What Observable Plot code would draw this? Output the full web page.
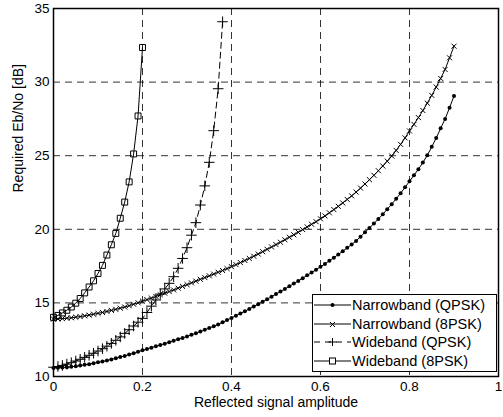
<!DOCTYPE html>
<html>
<head>
<meta charset="utf-8">
<script src="https://cdn.jsdelivr.net/npm/d3@7"></script>
<script src="https://cdn.jsdelivr.net/npm/@observablehq/plot@0.6"></script>
<style>
  html, body { margin: 0; padding: 0; background: #fff; }
  #wrap { position: relative; width: 503px; height: 417px; font-family: "Liberation Sans", Arial, sans-serif; }
  #legend { position: absolute; left: 312px; top: 294px; width: 183px; height: 75px; border: 1px solid #000; background: #fff; padding-top: 1px; }
  .row { display: flex; align-items: center; height: 18.6px; font-size: 14.5px; color: #000; }
  .row svg { width: 39px; height: 18px; flex: none; }
</style>
</head>
<body>
<div id="wrap"></div>
<script>
const xs = [0,0.01,0.02,0.03,0.04,0.05,0.06,0.07,0.08,0.09,0.1,0.11,0.12,0.13,0.14,0.15,0.16,0.17,0.18,0.19,0.2,0.21,0.22,0.23,0.24,0.25,0.26,0.27,0.28,0.29,0.3,0.31,0.32,0.33,0.34,0.35,0.36,0.37,0.38,0.39,0.4,0.41,0.42,0.43,0.44,0.45,0.46,0.47,0.48,0.49,0.5,0.51,0.52,0.53,0.54,0.55,0.56,0.57,0.58,0.59,0.6,0.61,0.62,0.63,0.64,0.65,0.66,0.67,0.68,0.69,0.7,0.71,0.72,0.73,0.74,0.75,0.76,0.77,0.78,0.79,0.8,0.81,0.82,0.83,0.84,0.85,0.86,0.87,0.88,0.89,0.9];

const narrowQPSK = [10.58,10.59,10.61,10.63,10.66,10.70,10.74,10.79,10.84,10.90,10.96,11.02,11.09,11.16,11.24,11.32,11.40,11.49,11.58,11.68,11.78,11.87,11.96,12.05,12.14,12.23,12.33,12.43,12.53,12.62,12.72,12.83,12.94,13.05,13.17,13.29,13.41,13.54,13.68,13.83,13.98,14.13,14.28,14.43,14.59,14.75,14.91,15.08,15.25,15.42,15.60,15.77,15.95,16.13,16.31,16.49,16.68,16.87,17.06,17.25,17.45,17.65,17.86,18.07,18.29,18.51,18.74,18.97,19.21,19.50,19.80,20.09,20.39,20.70,21.02,21.36,21.71,22.07,22.45,22.85,23.26,23.67,24.08,24.53,25.03,25.60,26.20,26.86,27.50,28.26,29.05];

const narrow8PSK = [13.90,13.91,13.93,13.96,13.99,14.03,14.07,14.12,14.17,14.23,14.29,14.35,14.42,14.49,14.56,14.64,14.72,14.81,14.91,15.01,15.12,15.22,15.33,15.44,15.55,15.66,15.77,15.88,16.00,16.12,16.24,16.36,16.48,16.60,16.72,16.84,16.96,17.08,17.20,17.33,17.46,17.60,17.74,17.88,18.02,18.17,18.32,18.48,18.64,18.80,18.96,19.12,19.29,19.46,19.63,19.80,19.98,20.16,20.34,20.52,20.71,20.91,21.12,21.34,21.56,21.79,22.03,22.27,22.53,22.80,23.08,23.37,23.67,23.98,24.30,24.63,24.98,25.36,25.77,26.21,26.68,27.13,27.59,28.07,28.57,29.10,29.66,30.25,30.86,31.65,32.44];

const wideQPSK = [10.63,10.68,10.75,10.84,10.94,11.05,11.17,11.30,11.44,11.58,11.73,11.89,12.06,12.25,12.46,12.69,12.93,13.18,13.43,13.69,13.95,14.35,14.78,15.20,15.60,15.95,16.33,16.78,17.35,18.02,18.75,19.60,20.45,21.65,22.95,24.55,26.70,29.55,34.10];

const wide8PSK = [14.02,14.15,14.32,14.50,14.72,14.98,15.30,15.68,16.08,16.50,17.00,17.55,18.25,18.95,19.72,20.75,21.85,23.22,25.12,27.70,32.35];

const seriesNames = ["Narrowband (QPSK)", "Narrowband (8PSK)", "Wideband (QPSK)", "Wideband (8PSK)"];
const xTicks = [0, 0.2, 0.4, 0.6, 0.8, 1];
const yTicks = [10, 15, 20, 25, 30, 35];
const xGrid = [0.2, 0.4, 0.6, 0.8];
const yGrid = [15, 20, 25, 30];
const xLabel = "Reflected signal amplitude";
const yLabel = "Required Eb/No [dB]";

const toRows = (ys) => ys.map((y, i) => ({x: xs[i], y}));
const nbq = toRows(narrowQPSK);
const nb8 = toRows(narrow8PSK);
const wbq = toRows(wideQPSK);
const wb8 = toRows(wide8PSK);

const gridStyle = {stroke: "#000", strokeWidth: 0.8, strokeDasharray: "7,5"};

const chart = Plot.plot({
  width: 503,
  height: 417,
  marginLeft: 53,
  marginRight: 5,
  marginTop: 8,
  marginBottom: 41,
  style: {fontFamily: "'Liberation Sans', Arial, sans-serif", fontSize: "13.5px", background: "#fff", color: "#000"},
  x: {domain: [0, 1], ticks: xTicks, tickFormat: d => String(d), tickSize: 0, tickPadding: 5, label: null},
  y: {domain: [10, 35], ticks: yTicks, tickFormat: d => String(d), tickSize: 0, tickPadding: 4, label: null},
  marks: [
    Plot.ruleX(xGrid, gridStyle),
    Plot.ruleY(yGrid, gridStyle),
    Plot.line(nbq, {x: "x", y: "y", stroke: "#000", strokeWidth: 1}),
    Plot.dot(nbq, {x: "x", y: "y", r: 2, fill: "#000", stroke: "none"}),
    Plot.line(nb8, {x: "x", y: "y", stroke: "#000", strokeWidth: 1}),
    Plot.dot(nb8, {x: "x", y: "y", symbol: "times", r: 2.4, stroke: "#000", strokeWidth: 1}),
    Plot.line(wbq, {x: "x", y: "y", stroke: "#000", strokeWidth: 1, strokeDasharray: "6,4"}),
    Plot.dot(wbq, {x: "x", y: "y", symbol: "plus", r: 3.5, stroke: "#000", strokeWidth: 1}),
    Plot.line(wb8, {x: "x", y: "y", stroke: "#000", strokeWidth: 1}),
    Plot.dot(wb8, {x: "x", y: "y", symbol: "square2", r: 3.8, stroke: "#000", fill: "none", strokeWidth: 1}),
    Plot.frame({stroke: "#000", strokeWidth: 1.5}),
    Plot.text([xLabel], {frameAnchor: "bottom", dy: 30, fontSize: 14, fill: "#000", text: d => d}),
    Plot.text([yLabel], {frameAnchor: "left", dx: -35, rotate: -90, fontSize: 14, fill: "#000", text: d => d})
  ]
});

const wrap = document.getElementById("wrap");
wrap.appendChild(chart);

// legend
const legend = document.createElement("div");
legend.id = "legend";
const sym = [
  `<line x1="1" y1="9" x2="38" y2="9" stroke="#000" stroke-width="1"/><circle cx="19.5" cy="9" r="2" fill="#000"/>`,
  `<line x1="1" y1="9" x2="38" y2="9" stroke="#000" stroke-width="1"/><path d="M17 7 L22 12 M22 7 L17 12" stroke="#000" stroke-width="1"/>`,
  `<line x1="1" y1="9" x2="38" y2="9" stroke="#000" stroke-width="1" stroke-dasharray="6,5"/><path d="M19.5 5 L19.5 13 M15.5 9 L23.5 9" stroke="#000" stroke-width="1"/>`,
  `<line x1="1" y1="9" x2="38" y2="9" stroke="#000" stroke-width="1"/><rect x="16.5" y="6" width="6" height="6" fill="#fff" stroke="#000" stroke-width="1"/>`
];
seriesNames.forEach((name, i) => {
  const row = document.createElement("div");
  row.className = "row";
  row.innerHTML = `<svg viewBox="0 0 39 18">${sym[i]}</svg><span>${name}</span>`;
  legend.appendChild(row);
});
wrap.appendChild(legend);
</script>
</body>
</html>
